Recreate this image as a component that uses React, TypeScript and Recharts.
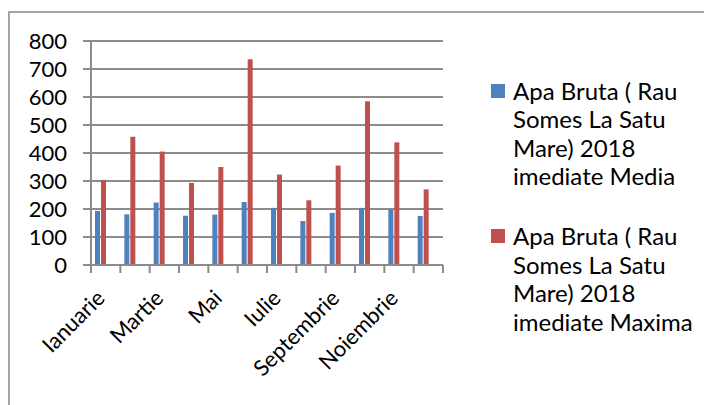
import { BarChart, Bar, XAxis, YAxis, CartesianGrid } from "recharts";

const MONTHS = [
  "Ianuarie",
  "Februarie",
  "Martie",
  "Aprilie",
  "Mai",
  "Iunie",
  "Iulie",
  "August",
  "Septembrie",
  "Octombrie",
  "Noiembrie",
  "Decembrie",
];
const MEDIA = [193, 181, 223, 176, 180, 225, 204, 157, 186, 204, 199, 175];
const MAXIMA = [304, 458, 405, 293, 350, 735, 323, 231, 355, 585, 438, 270];
const Y_TICKS = [0, 100, 200, 300, 400, 500, 600, 700, 800];

// legend text, as it wraps in the original
const MEDIA_LINES = ["Apa Bruta ( Rau", "Somes La Satu", "Mare) 2018", "imediate Media"];
const MAXIMA_LINES = ["Apa Bruta ( Rau", "Somes La Satu", "Mare) 2018", "imediate Maxima"];

const BLUE = "#4f81bd";
const RED = "#c0504d";
const GRID = "#8c8c8c";
const FONT = "Lato, 'Open Sans', sans-serif";

const data = MONTHS.map((m, i) => ({ month: m, media: MEDIA[i], maxima: MAXIMA[i] }));

// every category gets a tick mark on its left edge (the last one on both edges),
// and every other one gets a rotated label
function MonthTick({ x, y, payload, index, visibleTicksCount }: any) {
  const half = payload.offset || 0;
  const top = y - 8;
  const last = index === (visibleTicksCount ?? MONTHS.length) - 1;
  return (
    <g>
      <line x1={x - half} x2={x - half} y1={top} y2={top + 8} stroke={GRID} strokeWidth={2} />
      {last && <line x1={x + half} x2={x + half} y1={top} y2={top + 8} stroke={GRID} strokeWidth={2} />}
      {index % 2 === 0 && (
        <g transform={`translate(${x - 5},${y + 21})`}>
          <text transform="rotate(-45)" textAnchor="end" dy="0.35em" fontSize={22} fontFamily={FONT} fill="#000">
            {payload.value}
          </text>
        </g>
      )}
    </g>
  );
}

function LegendItem({ color, lines }: { color: string; lines: string[] }) {
  return (
    <div style={{ display: "flex", alignItems: "flex-start", marginBottom: 31.5 }}>
      <span style={{ width: 14, height: 14, background: color, marginTop: 7, marginRight: 8, flexShrink: 0 }} />
      <div>
        {lines.map((l) => (
          <div key={l}>{l}</div>
        ))}
      </div>
    </div>
  );
}

export default function App() {
  return (
    <div style={{ position: "relative", width: 704, height: 397, overflow: "hidden", background: "#fff" }}>
      <div
        style={{
          position: "absolute",
          top: 3,
          left: 0,
          width: 740,
          height: 440,
          border: "2px solid #a6a6a6",
          boxSizing: "border-box",
        }}
      />
      <div style={{ position: "absolute", top: 0, left: 0 }}>
        <BarChart width={460} height={397} data={data} margin={{ top: 33, right: 25, bottom: 0, left: 0 }} barGap={1}>
          <CartesianGrid vertical={false} stroke={GRID} strokeWidth={2} />
          {/* the bars sit a little left of the category centre, as in the original */}
          <XAxis xAxisId="bars" dataKey="month" hide height={0} padding={{ left: -5, right: 5 }} />
          <XAxis
            xAxisId="cat"
            dataKey="month"
            interval={0}
            height={140}
            tickSize={8}
            tickMargin={0}
            axisLine={{ stroke: GRID, strokeWidth: 2 }}
            tickLine={false}
            tick={<MonthTick />}
          />
          <YAxis
            domain={[0, 800]}
            ticks={Y_TICKS}
            interval={0}
            width={83}
            axisLine={{ stroke: GRID, strokeWidth: 2 }}
            tickLine={{ stroke: GRID, strokeWidth: 2 }}
            tickSize={8}
            tickMargin={16}
            tick={{ fontSize: 22, fontFamily: FONT, fill: "#000" }}
          />
          <Bar xAxisId="bars" dataKey="media" barSize={5} fill={BLUE} isAnimationActive={false} />
          <Bar xAxisId="bars" dataKey="maxima" barSize={5} fill={RED} isAnimationActive={false} />
        </BarChart>
      </div>
      <div
        style={{
          position: "absolute",
          left: 483,
          top: 68.5,
          fontFamily: FONT,
          fontSize: 24,
          lineHeight: "28.5px",
          color: "#000",
        }}
      >
        <LegendItem color={BLUE} lines={MEDIA_LINES} />
        <LegendItem color={RED} lines={MAXIMA_LINES} />
      </div>
    </div>
  );
}
